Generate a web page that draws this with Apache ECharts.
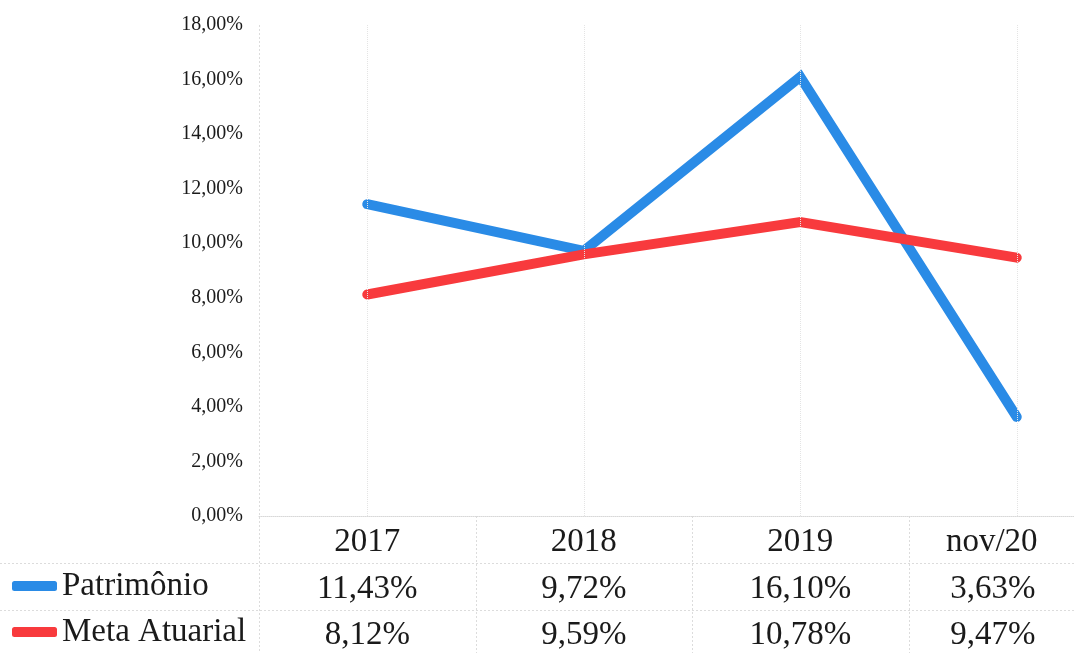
<!DOCTYPE html>
<html><head><meta charset="utf-8">
<script src="https://cdn.jsdelivr.net/npm/echarts@6/dist/echarts.min.js"></script>
<style>html,body{margin:0;padding:0;background:#fff}#c{width:1074px;height:653px}</style>
</head><body><div id="c"></div>
<script>
const categories = ['2017', '2018', '2019', 'nov/20'];
const patrimonio = [11.43, 9.72, 16.10, 3.63];
const metaAtuarial = [8.12, 9.59, 10.78, 9.47];
const seriesNames = ['Patrimônio', 'Meta Atuarial'];
const yTicks = { min: 0, max: 18, interval: 2 };

const FONT = '"Liberation Serif", "DejaVu Serif", serif';
const fmt = v => v.toFixed(2).replace('.', ',') + '%';
const TXT = '#1a1a1a';

const legendBase = {
  orient: 'vertical', left: 12, padding: 0,
  itemWidth: 45, itemHeight: 10, itemGap: 0,
  textStyle: { fontFamily: FONT, fontSize: 33, color: TXT, lineHeight: 40 }
};

const chart = echarts.init(document.getElementById('c'), null, { renderer: 'canvas' });
const option = {
  backgroundColor: '#ffffff',
  animation: false,
  grid: { left: 259, top: 25, width: 866, bottom: 137, containLabel: false, outerBoundsMode: 'none' },
  legend: [
    Object.assign({}, legendBase, { data: [{ name: seriesNames[0], icon: 'roundRect' }], top: 566 }),
    Object.assign({}, legendBase, { data: [{ name: seriesNames[1], icon: 'roundRect' }], top: 612 })
  ],
  xAxis: {
    type: 'category', data: categories, boundaryGap: true,
    axisLine: { show: true, lineStyle: { color: '#d8d8d8', type: 'dotted', width: 1 } },
    axisTick: { show: false },
    splitLine: { show: false },
    axisLabel: {
      margin: 3, interval: 0,
      formatter: (v, i) => {
        const s = i === categories.length - 1 ? 'l' : '';
        return `{h${s}|${v}}\n{v${s}|${fmt(patrimonio[i])}}\n{v${s}|${fmt(metaAtuarial[i])}}`;
      },
      rich: {
        h: { fontFamily: FONT, fontSize: 33, color: TXT, lineHeight: 47 },
        v: { fontFamily: FONT, fontSize: 33, color: TXT, lineHeight: 46 },
        hl: { fontFamily: FONT, fontSize: 33, color: TXT, lineHeight: 47, padding: [0, 50, 0, 0] },
        vl: { fontFamily: FONT, fontSize: 33, color: TXT, lineHeight: 46, padding: [0, 48, 0, 0] }
      }
    }
  },
  yAxis: {
    type: 'value', min: yTicks.min, max: yTicks.max, interval: yTicks.interval,
    axisLine: { show: false }, axisTick: { show: false },
    splitLine: { show: false },
    axisLabel: { margin: 16, formatter: v => fmt(v), fontFamily: FONT, fontSize: 20, color: TXT }
  },
  series: [
    {
      name: seriesNames[0], type: 'line', data: patrimonio, symbol: 'none',
      color: '#2a8be6',
      lineStyle: { width: 10, color: '#2a8be6', cap: 'round', join: 'miter' },
      markLine: {
        silent: true, symbol: 'none', label: { show: false },
        lineStyle: { color: '#e4e4e4', type: 'dotted', width: 1 },
        data: categories.map(c => ({ xAxis: c }))
      },
      z: 2
    },
    {
      name: seriesNames[1], type: 'line', data: metaAtuarial, symbol: 'none',
      color: '#f83a3d',
      lineStyle: { width: 10, color: '#f83a3d', cap: 'round', join: 'miter' },
      z: 3
    }
  ]
};
chart.setOption(option);

// table grid lines derived from the axis positions
const px = categories.map((c, i) => chart.convertToPixel({ xAxisIndex: 0 }, i));
const y0 = chart.convertToPixel({ yAxisIndex: 0 }, 0);
const rowH = 47;
const lines = [];
const lineStyle = { stroke: '#dcdcdc', lineWidth: 1, lineDash: [2, 2] };
[1, 2].forEach(k => {
  const y = Math.round(y0 + rowH * k) + 0.5;
  lines.push({ type: 'line', shape: { x1: 0, y1: y, x2: 1074, y2: y }, style: lineStyle, silent: true });
});
for (let i = 0; i < px.length - 1; i++) {
  const x = Math.round((px[i] + px[i + 1]) / 2) + 0.5;
  lines.push({ type: 'line', shape: { x1: x, y1: y0, x2: x, y2: 653 }, style: lineStyle, silent: true });
}
const xl = Math.round(px[0] - (px[1] - px[0]) / 2) + 0.5;
lines.push({ type: 'line', shape: { x1: xl, y1: chart.convertToPixel({ yAxisIndex: 0 }, yTicks.max), x2: xl, y2: 653 }, style: lineStyle, silent: true });
chart.setOption({ graphic: { elements: lines } });
</script>
</body></html>
